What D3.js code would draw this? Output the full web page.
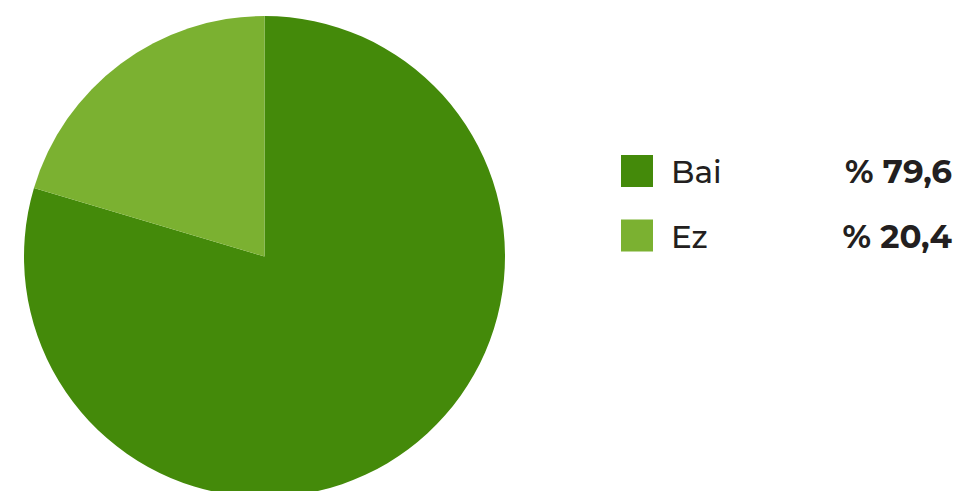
<!DOCTYPE html>
<html>
<head>
<meta charset="utf-8">
<script src="https://cdn.jsdelivr.net/npm/d3@7"></script>
<style>
  body { margin: 0; background: #fff; }
  svg { display: block; font-family: "Montserrat", Lato, "Open Sans", sans-serif; }
</style>
</head>
<body>
<svg id="pieSvg" width="956" height="491"></svg>
<script>
const labels = ["Bai", "Ez"];
const values = [79.6, 20.4];
const colors = ["#448a0a", "#7bb131"];

const svg = d3.select("#pieSvg");
const cx = 264.5, cy = 256.5, radius = 240.5;

const pie = d3.pie().sort(null).value(d => d.value);
const arc = d3.arc().innerRadius(0).outerRadius(radius);

const data = labels.map((l, i) => ({ label: l, value: values[i], color: colors[i] }));

const g = svg.append("g").attr("transform", `translate(${cx},${cy})`);
g.selectAll("path")
    .data(pie(data))
    .enter()
    .append("path")
    .attr("d", arc)
    .attr("fill", d => d.data.color);

// legend rows, 64.5px apart
const legend = svg.selectAll(".legendItem")
    .data(data)
    .enter()
    .append("g")
    .attr("class", "legendItem")
    .attr("transform", (d, i) => `translate(0,${155 + i * 64.5})`);

legend.append("rect")
    .attr("x", 621)
    .attr("y", 0)
    .attr("width", 32)
    .attr("height", 32)
    .attr("fill", d => d.color);

legend.append("text")
    .attr("x", 671)
    .attr("y", 28)
    .attr("font-size", 31)
    .attr("font-weight", 500)
    .attr("fill", "#231f20")
    .text(d => d.label);

legend.append("text")
    .attr("x", 952)
    .attr("y", 28)
    .attr("text-anchor", "end")
    .attr("font-size", 32.5)
    .attr("font-weight", "bold")
    .attr("fill", "#231f20")
    .text(d => "% " + d.value.toFixed(1).replace(".", ","));
</script>
</body>
</html>
